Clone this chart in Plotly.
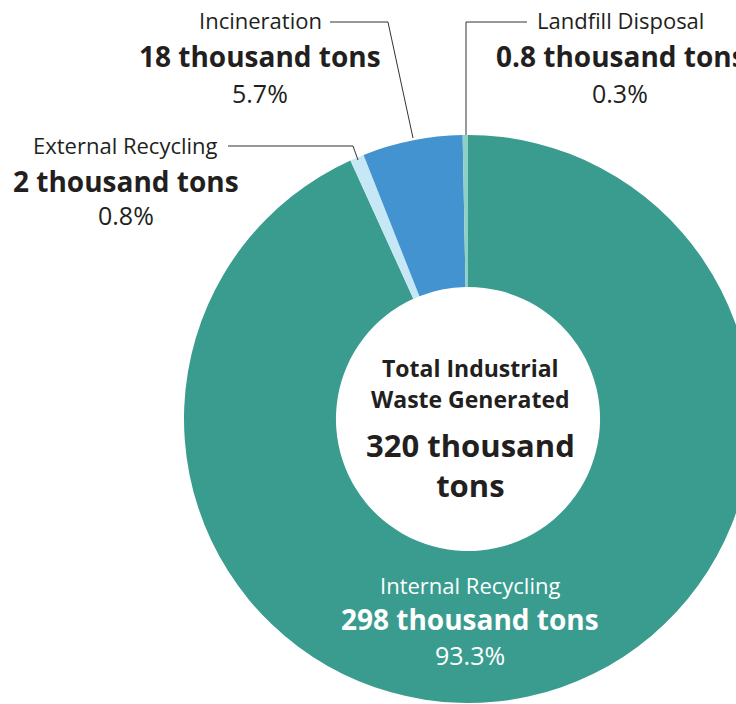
import plotly.graph_objects as go

# ---- data ----
categories = ["Internal Recycling", "External Recycling", "Incineration", "Landfill Disposal"]
percent = [93.3, 0.8, 5.7, 0.3]
tons_labels = ["298 thousand tons", "2 thousand tons", "18 thousand tons", "0.8 thousand tons"]
colors = ["#399c8f", "#c6e7f6", "#4293cf", "#8ed0c3"]
center_title = ["Total Industrial", "Waste Generated"]
center_total = ["320 thousand", "tons"]

W, H = 760, 704
FONT = "Open Sans"
DARK = "#231f20"


def px(x):
    return x / W


def py(y):
    return 1 - y / H


fig = go.Figure()
fig.add_trace(go.Pie(
    labels=categories,
    values=percent,
    hole=0.465,
    sort=False,
    direction="clockwise",
    rotation=0,
    marker=dict(colors=colors, line=dict(width=0)),
    textinfo="none",
    hoverinfo="label+percent",
    showlegend=False,
    domain=dict(x=[px(184), px(752)], y=[py(703), py(135)]),
))

ann = []


def add_text(x, y, text, size, bold=False, color=DARK):
    ann.append(dict(
        x=px(x), y=py(y), xref="paper", yref="paper",
        text=("<b>%s</b>" % text) if bold else text,
        showarrow=False, xanchor="center", yanchor="middle",
        font=dict(family=FONT, size=size, color=color),
    ))


def fmt(p):
    return "%.1f%%" % p

LBL, NUM, PCT = 22, 28, 25
# Incineration
add_text(260, 20, categories[2], LBL)
add_text(260, 56, tons_labels[2], NUM, bold=True)
add_text(260, 93, fmt(percent[2]), PCT)
# Landfill
add_text(620, 20, categories[3], LBL)
add_text(621, 56, tons_labels[3], NUM, bold=True)
add_text(620, 93, fmt(percent[3]), PCT)
# External
add_text(126, 145, categories[1], LBL)
add_text(126, 181, tons_labels[1], NUM, bold=True)
add_text(126, 215, fmt(percent[1]), PCT)
# Internal
add_text(470, 585, categories[0], LBL, color="white")
add_text(470, 619, tons_labels[0], NUM, bold=True, color="white")
add_text(470, 655, fmt(percent[0]), PCT, color="white")
# Center
add_text(470, 368, center_title[0], 23, bold=True)
add_text(470, 399, center_title[1], 23, bold=True)
add_text(470, 465, "<br>".join(center_total), 31, bold=True)

shapes = []


def line(pts):
    path = "M " + " L ".join("%f,%f" % (px(a), py(b)) for a, b in pts)
    shapes.append(dict(type="path", path=path, xref="paper", yref="paper",
                       line=dict(color="#333333", width=1)))

line([(330, 22), (388, 22), (413, 138)])
line([(527, 22), (466, 22), (466, 135)])
line([(228, 146), (353, 146), (358, 160)])

fig.update_layout(
    width=W, height=H,
    margin=dict(l=0, r=0, t=0, b=0),
    paper_bgcolor="white", plot_bgcolor="white",
    annotations=ann, shapes=shapes,
)

fig.write_html(
    "out.html",
    config={"displayModeBar": False},
    post_script="document.body.style.margin='0';document.body.style.overflow='hidden';document.documentElement.style.overflow='hidden';",
)
